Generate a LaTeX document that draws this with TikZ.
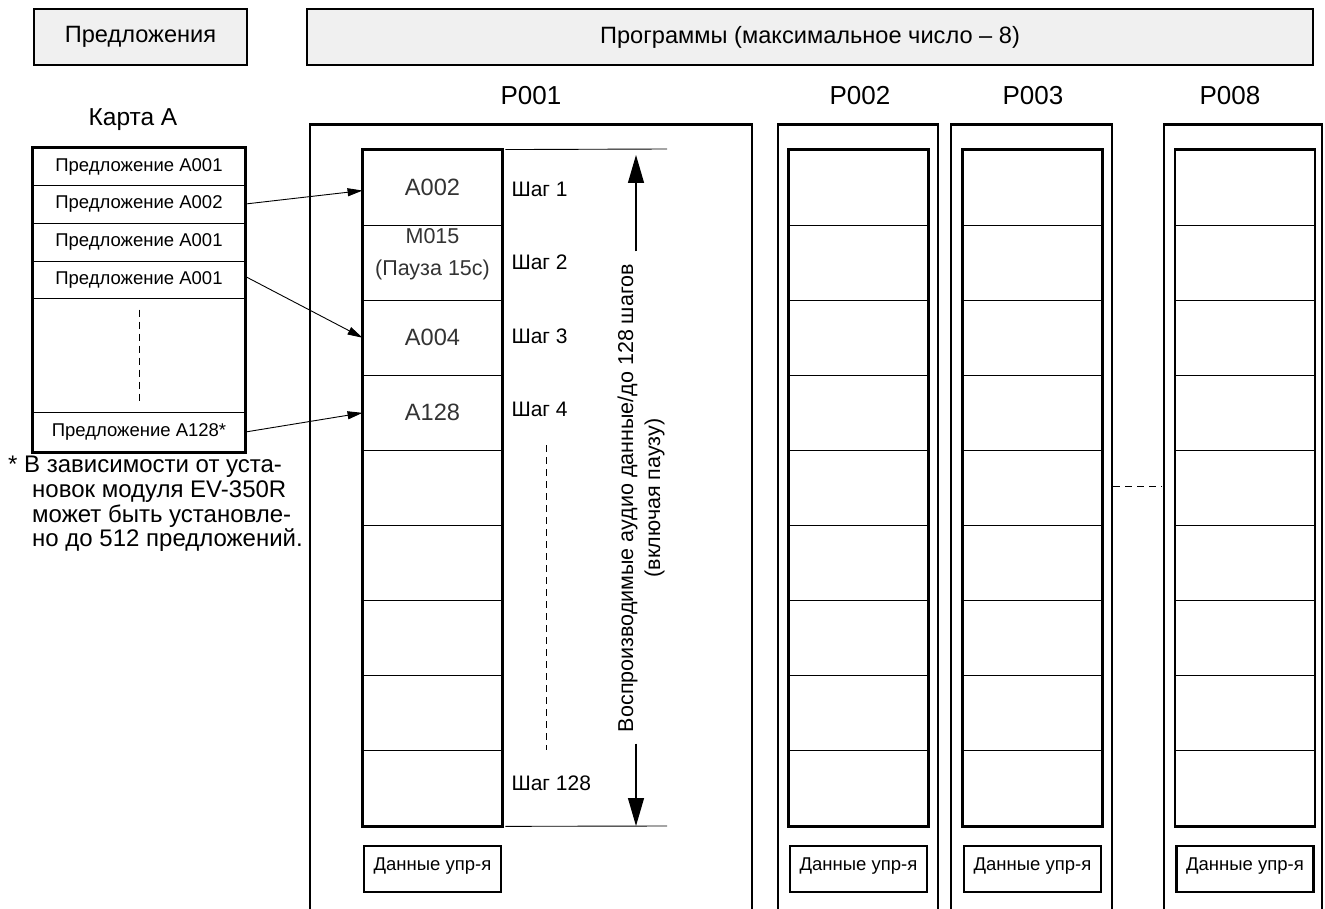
\documentclass[tikz,border=0pt]{standalone}
\usepackage{fontspec}
\setmainfont{Liberation Sans}
\usetikzlibrary{arrows.meta,positioning}
\definecolor{hdrgray}{HTML}{F0F0F0}
\definecolor{celltxt}{HTML}{333333}

\tikzset{
  hdrbox/.style={draw, line width=1.5pt, fill=hdrgray, minimum height=56pt, font=\fontsize{23.6}{26}\selectfont},
  cardrow/.style={draw, line width=0.9pt, minimum width=212pt, inner sep=0pt, font=\fontsize{18.5}{20}\selectfont},
  cell/.style={draw, line width=0.9pt, minimum width=139pt, minimum height=75.1pt, inner sep=0pt},
  celltext/.style={text=celltxt, align=center, font=\fontsize{23.6}{32}\selectfont},
  databox/.style={draw, line width=2.4pt, minimum width=137pt, minimum height=46pt, text depth=9pt, font=\fontsize{18.5}{20}\selectfont},
  steplbl/.style={anchor=west, font=\fontsize{21}{25}\selectfont},
  plbl/.style={font=\fontsize{26}{28}\selectfont},
  feed/.style={-{Triangle[length=15pt,width=8pt]}, line width=0.9pt},
  dimarrow/.style={-{Triangle[length=28pt,width=16pt]}, line width=1.2pt},
  thickbox/.style={line width=2.5pt},
  dots/.style={line width=0.9pt, dash pattern=on 7pt off 5pt},
}

\begin{document}
\begin{tikzpicture}[x=1pt,y=-1pt]
\useasboundingbox (0,0) rectangle (1325,909);

% Header boxes
\node[hdrbox, minimum width=213pt] (hsent) at (140.5,37) {Предложения};
\node[hdrbox, minimum width=1006pt] (hprog) at (810,37) {Программы (максимальное число – 8)};

% Card A
\node[plbl, font=\fontsize{24.5}{28}\selectfont] (cardlbl) at (133,120) {Карта А};
\node[cardrow, minimum height=37pt] (s1) at (139,166.5) {Предложение A001};
\node[cardrow, minimum height=38pt] (s2) at (139,204) {Предложение A002};
\node[cardrow, minimum height=38pt] (s3) at (139,242) {Предложение A001};
\node[cardrow, minimum height=37pt] (s4) at (139,279.5) {Предложение A001};
\node[cardrow, minimum height=114pt] (s5) at (139,355) {};
\node[cardrow, minimum height=40pt] (s6) at (139,432) {Предложение A128*};
\draw[thickbox] (s1.north west) rectangle (s6.south east);
\draw[dots] ([yshift=-12pt]s5.north) -- ([yshift=10pt]s5.south);

% Footnote
\node[anchor=north west, align=left, inner sep=0pt, font=\fontsize{24}{24.7}\selectfont] (note) at (8,456)
  {* В зависимости от уста-\\\hspace*{24pt}новок модуля EV-350R\\\hspace*{24pt}может быть установле-\\\hspace*{24pt}но до 512 предложений.};

% Program columns
\foreach \nm/\cx/\xl/\xr/\lx/\lbl in {p1/432.5/310/752/531/P001, p2/858.5/778/938/860/P002,
                                      p3/1032.5/951/1112/1033/P003, p8/1245/1164/1322/1230/P008} {
  \draw[thickbox] (\xl,915) |- (\xr,124.5) -- (\xr,915);
  \node[plbl] (\nm lbl) at (\lx,96) {\lbl};
  \foreach \i in {1,...,9}
    \node[cell] (\nm c\i) at (\cx,{150+75.1*\i-37.55}) {};
  \draw[thickbox] (\nm c1.north west) rectangle (\nm c9.south east);
  \node[databox] (\nm dat) at (\cx,869) {Данные упр-я};
}
\draw[dots] (1113,486) -- (1162,486);

% Contents of P001
\node[celltext] at (p1c1) {A002};
\node[celltext, font=\fontsize{21.5}{32}\selectfont] at ([yshift=8pt]p1c2) {M015\\(Пауза 15с)};
\node[celltext] at (p1c3) {A004};
\node[celltext] at (p1c4) {A128};
\node[steplbl] (st1) at (508,189) {Шаг 1};
\node[steplbl] (st2) at (508,262) {Шаг 2};
\node[steplbl] (st3) at (508,336) {Шаг 3};
\node[steplbl] (st4) at (508,409) {Шаг 4};
\node[steplbl] (st128) at (508,783) {Шаг 128};
\draw[dots] (546,445) -- (546,750);

% Dimension of the step list
\coordinate (dimtop) at (636,149);
\coordinate (dimbot) at (636,826);
\draw[line width=0.9pt] ([xshift=3pt]p1c1.north east) -- (667,149);
\draw[line width=0.9pt] ([xshift=3pt]p1c9.south east) -- (667,826);
\node[rotate=90, align=center, font=\fontsize{21.5}{27}\selectfont] (dimtxt) at (641,498)
  {Воспроизводимые аудио данные/до 128 шагов\\(включая паузу)};
\draw[dimarrow, shorten <=9pt, shorten >=6pt] (dimtxt.east -| dimtop) -- (dimtop);
\draw[dimarrow, shorten <=8pt] (dimtxt.west -| dimbot) -- (dimbot);

% Sentences to steps
\draw[feed] (s2.east) -- ([yshift=-3pt]p1c1.west);
\draw[feed] ([yshift=3pt]s4.east) -- (p1c3.west);
\draw[feed] (s6.east) -- (p1c4.west);

\end{tikzpicture}
\end{document}
